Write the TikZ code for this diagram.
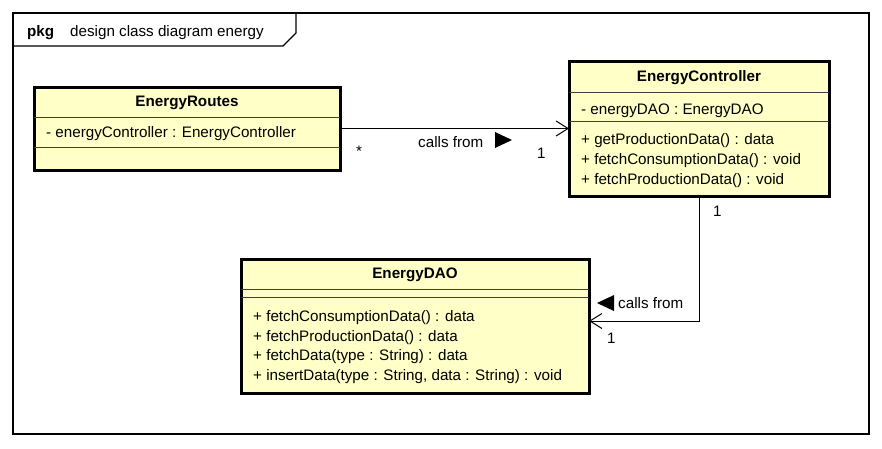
\documentclass[tikz,border=0pt]{standalone}
\usepackage{fontspec}
\setmainfont{Liberation Sans}
\usetikzlibrary{arrows.meta}
\definecolor{clsfill}{RGB}{255,255,200}
\tikzset{
  cls/.style={draw=black, line width=3pt, fill=clsfill, inner sep=0pt, outer sep=0pt},
  sepline/.style={draw=black!75, line width=0.9pt},
  frame/.style={draw=black, line width=1.3pt},
  txt/.style={inner sep=0pt, anchor=west, font=\fontsize{15.2}{18}\selectfont, text height=11pt, text depth=3pt},
  ttl/.style={inner sep=0pt, font=\bfseries\fontsize{15.2}{18}\selectfont, text height=11pt, text depth=3pt},
  assoc/.style={draw=black, line width=1pt, -{Straight Barb[length=12pt,width=15pt,line width=1pt]}},
  tri/.style={fill=black}
}
\begin{document}
\begin{tikzpicture}[x=1pt,y=-1pt]
\useasboundingbox (0,0) rectangle (882,448);
% package frame
\draw[frame] (13,13) rectangle (869,434);
\draw[frame] (13,46) -- (283,46) -- (296,33) -- (296,13);
\node[ttl, anchor=west] (pkg) at (27,32) {pkg};
\node[txt] (pkgname) at (70,32) {design class diagram energy};
% EnergyRoutes
\node[cls, minimum width=306pt, minimum height=83pt] (routes) at (187,128.5) {};
\draw[sepline] (routes.west |- 0,117) -- (routes.east |- 0,117);
\draw[sepline] (routes.west |- 0,147) -- (routes.east |- 0,147);
\node[ttl] (routesT) at (187,102) {EnergyRoutes};
\node[txt] (routesA) at (46,133) {- energyController : EnergyController};
% EnergyController
\node[cls, minimum width=260pt, minimum height=135pt] (ctrl) at (699,128.5) {};
\draw[sepline] (ctrl.west |- 0,92) -- (ctrl.east |- 0,92);
\draw[sepline] (ctrl.west |- 0,121) -- (ctrl.east |- 0,121);
\node[ttl] (ctrlT) at (699,77) {EnergyController};
\node[txt] (ctrlA) at (581,110) {- energyDAO : EnergyDAO};
\node[txt] (ctrlM1) at (581,140) {+ getProductionData() : data};
\node[txt] (ctrlM2) at (581,160) {+ fetchConsumptionData() : void};
\node[txt] (ctrlM3) at (581,180) {+ fetchProductionData() : void};
% EnergyDAO
\node[cls, minimum width=348pt, minimum height=134pt] (dao) at (415,326) {};
\draw[sepline] (dao.west |- 0,289) -- (dao.east |- 0,289);
\draw[sepline] (dao.west |- 0,297) -- (dao.east |- 0,297);
\node[ttl] (daoT) at (415,274) {EnergyDAO};
\node[txt] (daoM1) at (253,317) {+ fetchConsumptionData() : data};
\node[txt] (daoM2) at (253,337) {+ fetchProductionData() : data};
\node[txt] (daoM3) at (253,356) {+ fetchData(type : String) : data};
\node[txt] (daoM4) at (253,376) {+ insertData(type : String, data : String) : void};
% associations
\draw[assoc] (routes) -- (ctrl);
\node[txt] (m1) at (356,152) {*};
\node[txt] (m2) at (537,154) {1};
\node[txt] (lab1) at (418,143) {calls from};
\fill[tri] (495,132) -- (512,140) -- (495,148) -- cycle;
\draw[assoc] (ctrl.south) |- ([yshift=5pt]dao.east);
\node[txt] (m3) at (713,212) {1};
\node[txt] (m4) at (607,339) {1};
\node[txt] (lab2) at (618,304) {calls from};
\fill[tri] (614,295) -- (597,303) -- (614,311) -- cycle;
\end{tikzpicture}
\end{document}
